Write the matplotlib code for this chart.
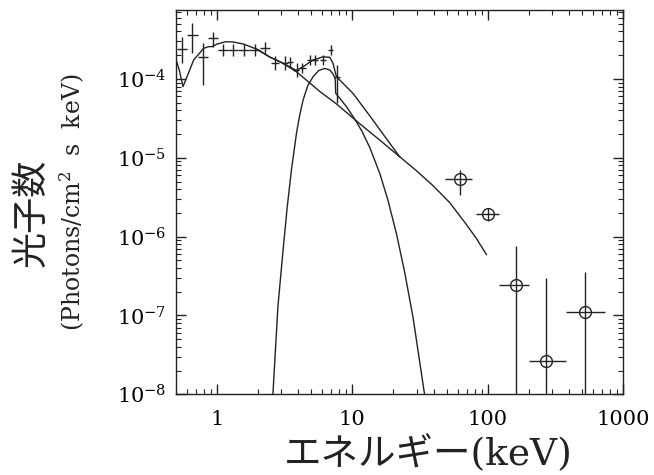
import numpy as np
import matplotlib.pyplot as plt

plt.rcParams['font.family'] = ['DejaVu Serif', 'Noto Sans CJK JP']
plt.rcParams['mathtext.fontset'] = 'dejavuserif'

# 低エネルギー側の観測点 (十字)
energy = [0.558, 0.662, 0.792, 0.939, 1.11, 1.32, 1.58, 1.91, 2.29, 2.68,
          3.18, 3.50, 3.88, 4.29, 4.86, 5.35, 6.09, 6.94, 7.73]
energy_lo = [0.513, 0.603, 0.728, 0.863, 1.022, 1.212, 1.442, 1.738, 2.10, 2.50,
             3.02, 3.32, 3.68, 4.08, 4.62, 5.09, 5.79, 6.65, 7.34]
energy_hi = [0.608, 0.727, 0.863, 1.022, 1.212, 1.436, 1.738, 2.094, 2.49, 2.87,
             3.34, 3.68, 4.08, 4.52, 5.11, 5.63, 6.41, 7.24, 8.13]
flux = [2.38e-4, 3.61e-4, 1.91e-4, 3.27e-4, 2.33e-4, 2.33e-4, 2.33e-4, 2.33e-4, 2.45e-4, 1.58e-4,
        1.58e-4, 1.66e-4, 1.30e-4, 1.37e-4, 1.74e-4, 1.74e-4, 1.74e-4, 2.33e-4, 1.07e-4]
flux_lo = [1.60e-4, 2.13e-4, 8.4e-5, 2.56e-4, 1.96e-4, 1.96e-4, 1.96e-4, 1.96e-4, 2.06e-4, 1.29e-4,
           1.29e-4, 1.43e-4, 1.05e-4, 1.18e-4, 1.50e-4, 1.50e-4, 1.50e-4, 2.01e-4, 4.97e-5]
flux_hi = [3.43e-4, 5.12e-4, 2.86e-4, 3.97e-4, 2.78e-4, 2.78e-4, 2.78e-4, 2.78e-4, 2.92e-4, 1.94e-4,
           1.94e-4, 1.92e-4, 1.61e-4, 1.59e-4, 2.01e-4, 2.01e-4, 2.01e-4, 2.70e-4, 1.50e-4]

# 高エネルギー側の観測点 (丸)
hx_energy = [62.1, 100.5, 161, 271, 526]
hx_energy_lo = [48.2, 81.5, 121, 202, 381]
hx_energy_hi = [77.1, 120.5, 202, 381, 730]
hx_flux = [5.37e-6, 1.95e-6, 2.42e-7, 2.64e-8, 1.10e-7]
hx_flux_lo = [3.40e-6, 1.56e-6, 1e-10, 1e-10, 1e-10]
hx_flux_hi = [7.05e-6, 2.31e-6, 7.69e-7, 3.0e-7, 3.53e-7]

# モデル: 合計
total_e = [0.502, 0.529, 0.564, 0.604, 0.676, 0.802, 0.873, 0.923, 1.005, 1.16,
           1.30, 1.58, 1.98, 2.46, 3.09, 3.88, 4.34, 5.14, 6.09, 6.83,
           7.21, 7.64, 10.1, 13.5, 17.9, 22.4, 29.8, 39.5, 52.5, 69.6, 82.6, 97.8]
total_f = [1.74e-4, 1.30e-4, 8.0e-5, 1.07e-4, 1.74e-4, 2.45e-4, 2.57e-4, 2.57e-4, 2.77e-4, 2.96e-4,
           2.96e-4, 2.77e-4, 2.38e-4, 1.90e-4, 1.58e-4, 1.28e-4, 1.43e-4, 1.74e-4, 1.91e-4, 1.88e-4,
           1.58e-4, 1.07e-4, 6.59e-5, 3.39e-5, 1.74e-5, 1.03e-5, 6.84e-6, 4.42e-6, 2.69e-6, 1.42e-6,
           9.44e-7, 5.91e-7]

# モデル: べき成分
pl_e = [1.98, 2.46, 3.09, 3.88, 4.86, 5.75, 7.64, 11.4, 16.0, 22.4]
pl_f = [2.38e-4, 1.90e-4, 1.58e-4, 1.23e-4, 8.90e-5, 6.95e-5, 4.83e-5, 2.69e-5, 1.67e-5, 1.03e-5]

# モデル: 山成分
bump_e = [2.585, 2.83, 3.09, 3.31, 3.56, 3.88, 4.10, 4.34, 4.69, 5.14,
          5.66, 6.27, 6.83, 7.21, 7.49, 7.55, 9.06, 10.4, 11.75, 13.5,
          16.0, 18.3, 21.2, 24.4, 28.1, 34.6]
bump_f = [8.65e-9, 1.31e-7, 6.84e-7, 2.33e-6, 7.05e-6, 2.06e-5, 3.50e-5, 5.42e-5, 8.15e-5, 1.07e-4,
          1.28e-4, 1.36e-4, 1.30e-4, 1.16e-4, 1.0e-4, 6.59e-5, 4.46e-5, 3.12e-5, 2.20e-5, 1.34e-5,
          6.27e-6, 2.94e-6, 1.09e-6, 3.50e-7, 9.44e-8, 8.65e-9]

fig = plt.figure(figsize=(6.54, 4.75), dpi=100)
ax = fig.add_axes([0.269, 0.170, 0.684, 0.809])
col = '#222222'

ax.plot(total_e, total_f, color=col, lw=1.0)
ax.plot(pl_e, pl_f, color=col, lw=1.0)
ax.plot(bump_e, bump_f, color=col, lw=1.0)

e = np.array(energy)
f = np.array(flux)
ax.errorbar(e, f,
            xerr=[e - np.array(energy_lo), np.array(energy_hi) - e],
            yerr=[f - np.array(flux_lo), np.array(flux_hi) - f],
            fmt='none', ecolor=col, elinewidth=1.0, capsize=0)

he = np.array(hx_energy)
hf = np.array(hx_flux)
ax.errorbar(he, hf,
            xerr=[he - np.array(hx_energy_lo), np.array(hx_energy_hi) - he],
            yerr=[hf - np.array(hx_flux_lo), np.array(hx_flux_hi) - hf],
            fmt='o', mfc='none', mec=col, ms=8.5, mew=1.0,
            ecolor=col, elinewidth=1.0, capsize=0)

ax.set_xscale('log')
ax.set_yscale('log')
ax.set_xlim(0.5, 1000)
ax.set_ylim(1e-8, 7.5e-4)
ax.set_xticks([1, 10, 100, 1000])
ax.set_xticklabels(['1', '10', '100', '1000'])
ax.set_yticks([1e-8, 1e-7, 1e-6, 1e-5, 1e-4])
ax.tick_params(which='both', direction='in', top=True, right=True, labelsize=15, color=col)
ax.tick_params(which='major', length=7, width=1.0)
ax.tick_params(which='minor', length=3.5, width=0.8)
ax.tick_params(axis='x', pad=11)
ax.tick_params(axis='y', pad=7)
for s in ax.spines.values():
    s.set_color(col)
    s.set_linewidth(1.0)

fig.text(0.049, 0.552, '光子数', rotation=90, ha='center', va='center',
         fontsize=26, family=['Noto Sans CJK JP'], color=col)
fig.text(0.110, 0.575, '(Photons/cm$^2$  s  keV)', rotation=90, ha='center', va='center',
         fontsize=17, color=col)
fig.text(0.655, 0.044, 'エネルギー(keV)', ha='center', va='center', fontsize=27, color=col)

fig.savefig('out.png', dpi=100)
